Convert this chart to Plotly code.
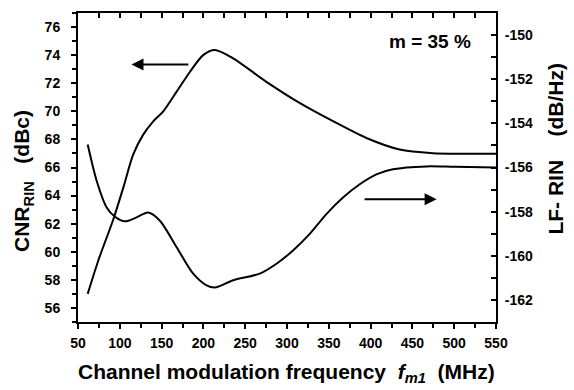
import plotly.graph_objects as go

# CNR_RIN (left axis, dBc)
cnr_f = [61.6, 75, 92.2, 104.2, 116.1, 128, 140, 152, 168, 183.8, 199.7, 213.7,
         235.5, 275.4, 315, 355, 395, 434.7, 474.5, 510, 550]
cnr_v = [57.0, 59.5, 62.3, 64.57, 66.93, 68.34, 69.29, 70.0, 71.4, 72.8, 74.0, 74.36,
         73.77, 72.1, 70.6, 69.3, 68.1, 67.28, 67.02, 66.98, 66.98]

# LF-RIN (right axis, dB/Hz)
rin_f = [61.6, 72.3, 84.3, 94.2, 106.2, 120.1, 134, 148, 168, 187.8, 203.8, 213.7,
         235.5, 267.4, 287.4, 307.2, 327.2, 347.1, 367, 387, 406.9, 426.7, 466.6,
         500, 550]
rin_v = [-154.96, -156.6, -157.81, -158.23, -158.44, -158.26, -158.04, -158.41,
         -159.61, -160.81, -161.34, -161.44, -161.11, -160.81, -160.36, -159.76,
         -159.01, -158.11, -157.36, -156.76, -156.31, -156.08, -155.95, -155.97, -156.0]

x_ticks = [50, 100, 150, 200, 250, 300, 350, 400, 450, 500, 550]
left_ticks = [56, 58, 60, 62, 64, 66, 68, 70, 72, 74, 76]
right_ticks = [-162, -160, -158, -156, -154, -152, -150]

FONT = "Liberation Sans, Arial, sans-serif"

fig = go.Figure()
fig.add_trace(go.Scatter(x=cnr_f, y=cnr_v, mode="lines",
                         line=dict(color="black", width=2, shape="spline", smoothing=0.8),
                         yaxis="y", showlegend=False))
fig.add_trace(go.Scatter(x=rin_f, y=rin_v, mode="lines",
                         line=dict(color="black", width=2, shape="spline", smoothing=0.8),
                         yaxis="y2", showlegend=False))
# invisible trace to anchor the top axis
fig.add_trace(go.Scatter(x=[None], y=[None], xaxis="x2", yaxis="y", showlegend=False,
                         hoverinfo="skip"))

tickfont = dict(family=FONT, size=14, color="black", weight="bold")
titlefont = dict(family=FONT, size=21, color="black")

L, R, T, B = 78, 496.5, 11, 322
W = R - L
H = B - T


def px(xp):
    return (xp - L) / W


def py(yp):
    return 1 - (yp - T) / H


fig.update_layout(
    width=574, height=390,
    margin=dict(l=78, r=77.5, t=11, b=68),
    paper_bgcolor="white", plot_bgcolor="white",
    font=dict(family=FONT, color="black"),
    xaxis=dict(range=[50, 550], tickvals=x_ticks, ticktext=[str(v) for v in x_ticks],
               ticks="outside", ticklen=5, tickwidth=2, tickcolor="black",
               minor=dict(dtick=25, tick0=50, ticks="outside", ticklen=4, tickwidth=2, tickcolor="black"),
               showline=True, linewidth=2, linecolor="black", mirror=True,
               showgrid=False, zeroline=False, tickfont=tickfont, ticklabelstandoff=2),
    xaxis2=dict(range=[50, 550], overlaying="x", side="top", anchor="y",
                tickvals=x_ticks, showticklabels=False,
                ticks="inside", ticklen=5, tickwidth=2, tickcolor="black",
                minor=dict(dtick=25, tick0=50, ticks="inside", ticklen=5, tickwidth=2, tickcolor="black"),
                showline=False, showgrid=False, zeroline=False),
    yaxis=dict(range=[55, 77], tickvals=left_ticks, ticktext=[str(v) for v in left_ticks],
               ticks="outside", ticklen=5, tickwidth=2, tickcolor="black",
               minor=dict(dtick=1, tick0=55, ticks="outside", ticklen=4, tickwidth=2, tickcolor="black"),
               showline=True, linewidth=2, linecolor="black",
               showgrid=False, zeroline=False, tickfont=tickfont, ticklabelstandoff=8),
    yaxis2=dict(range=[-163, -149], overlaying="y", side="right", anchor="x",
                tickvals=right_ticks, ticktext=[str(v) for v in right_ticks],
                ticks="inside", ticklen=5, tickwidth=2, tickcolor="black",
                minor=dict(dtick=1, tick0=-163, ticks="inside", ticklen=5, tickwidth=2, tickcolor="black"),
                showline=True, linewidth=2, linecolor="black",
                showgrid=False, zeroline=False, tickfont=tickfont, ticklabelstandoff=4),
    annotations=[
        dict(x=114, y=73.34, ax=183.8, ay=73.34, xref="x", yref="y", axref="x", ayref="y",
             showarrow=True, arrowhead=2, arrowsize=1.2, arrowwidth=2, arrowcolor="black", text=""),
        dict(x=479, y=63.74, ax=391, ay=63.74, xref="x", yref="y", axref="x", ayref="y",
             showarrow=True, arrowhead=2, arrowsize=1.2, arrowwidth=2, arrowcolor="black", text=""),
        dict(x=470.6, y=74.95, xref="x", yref="y", showarrow=False,
             text="<b>m = 35 %</b>", font=dict(family=FONT, size=19, color="black")),
        dict(x=px(287), y=py(373), xref="paper", yref="paper", showarrow=False,
             xanchor="center", yanchor="middle",
             text="<b>Channel modulation frequency  <i>f</i><sub><i>m1</i></sub>  (MHz)</b>",
             font=titlefont),
        dict(x=px(23), y=py(180), xref="paper", yref="paper", showarrow=False,
             xanchor="center", yanchor="middle", textangle=-90,
             text="<b>CNR<sub>RIN</sub>   (dBc)</b>", font=titlefont),
        dict(x=px(556), y=py(148), xref="paper", yref="paper", showarrow=False,
             xanchor="center", yanchor="middle", textangle=-90,
             text="<b>LF- RIN    (dB/Hz)</b>", font=titlefont),
    ],
)

fig.write_html("out.html")
